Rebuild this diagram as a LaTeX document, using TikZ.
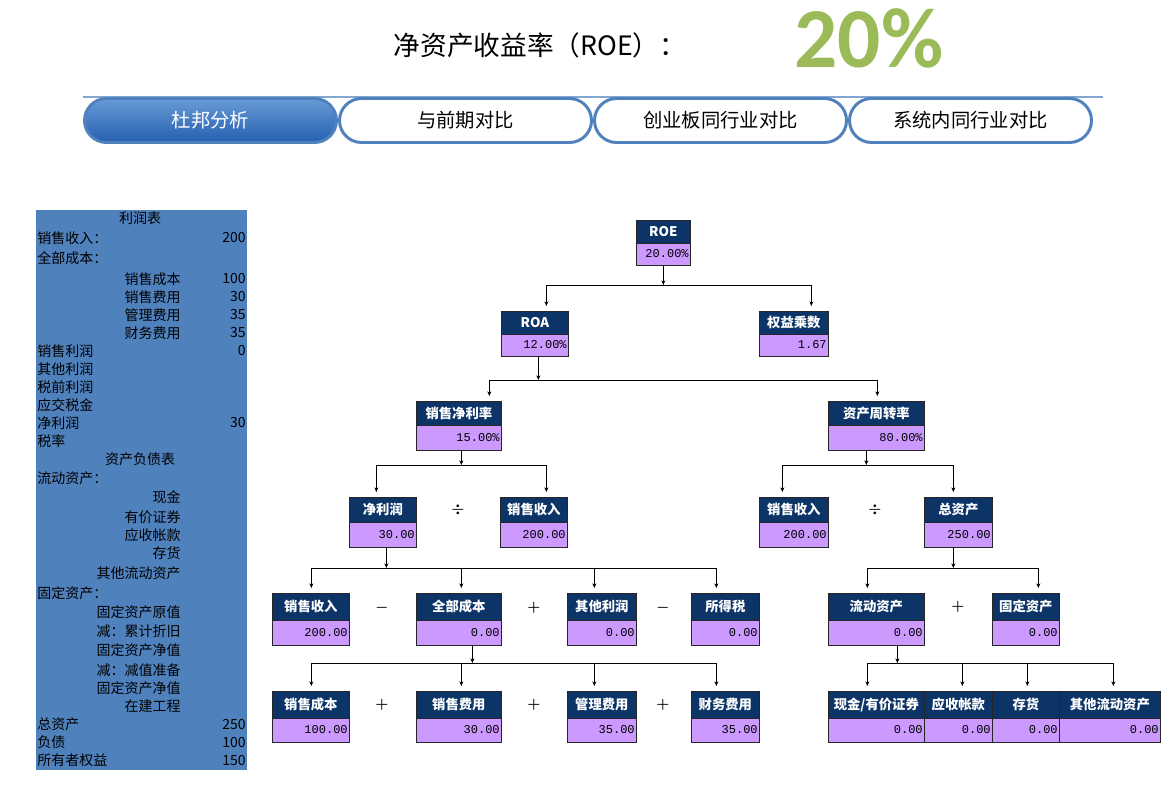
\documentclass[tikz,border=0pt]{standalone}
\usepackage{fontspec}
\setmainfont{Noto Sans CJK SC}
\setmonofont{Liberation Mono}
\newfontfamily\pctfont{Carlito}
\usetikzlibrary{arrows.meta,positioning,calc}
\definecolor{PanelBlue}{RGB}{79,129,189}
\definecolor{HeadNavy}{RGB}{12,52,102}
\definecolor{ValPurple}{RGB}{204,153,255}
\definecolor{TabLine}{RGB}{79,129,189}
\definecolor{TabTop}{RGB}{104,154,214}
\definecolor{TabBot}{RGB}{36,96,176}
\definecolor{PctGreen}{RGB}{155,187,89}

\begin{document}
\begin{tikzpicture}[x=0.75pt,y=-0.75pt,
  hd/.style={draw=black!85,fill=HeadNavy,text=white,line width=0.6pt,
             inner xsep=1.5pt,inner ysep=0pt,outer sep=0pt,align=center,
             font=\bfseries\fontsize{10pt}{11pt}\selectfont},
  val/.style={draw=black!85,fill=ValPurple,line width=0.6pt,
              inner xsep=1pt,inner ysep=0pt,outer sep=0pt,align=right,
              font=\ttfamily\fontsize{9pt}{10pt}\selectfont},
  tab/.style={draw=TabLine,line width=2.2pt,rounded corners=16.5pt,
              minimum height=33pt,font=\fontsize{14.5pt}{16pt}\selectfont},
  pnl/.style={inner sep=0pt,font=\fontsize{10.5pt}{12pt}\selectfont},
  op/.style={font=\boldmath\fontsize{11pt}{12pt}\selectfont},
  arr/.style={-{Stealth[length=3.5pt,width=3pt]},line width=0.6pt},
  bar/.style={line width=0.6pt},
]
\useasboundingbox (0,0) rectangle (1176,785);
\fill[white] (0,0) rectangle (1176,785);

% title
\node[font=\fontsize{20pt}{22pt}\selectfont] (title) at (540,45) {净资产收益率（ROE）：};
\node[font=\pctfont\bfseries\fontsize{64pt}{66pt}\selectfont,text=PctGreen] (pct) at (869,38) {20\%};
\draw[TabLine!70,line width=0.8pt] (83,97) -- (1103,97);

% tabs
\node[tab,top color=TabTop,bottom color=TabBot,text=white,minimum width=189pt] (t1) at (210.5,120.5) {杜邦分析};
\foreach \x/\w/\t [count=\i from 2] in {465.5/255/与前期对比,720.5/255/创业板同行业对比,970.5/245/系统内同行业对比}
  \node[tab,fill=white,minimum width={(\w-3)*0.75pt}] (t\i) at (\x,120.5) {\t};

% left panel
\fill[PanelBlue] (36,210) rectangle (247,770);
\foreach \y/\x/\an/\t [count=\i] in {
  218/140/center/利润表, 238/37/west/销售收入：, 258/37/west/全部成本：,
  279/181/east/销售成本, 297/181/east/销售费用, 315/181/east/管理费用, 333/181/east/财务费用,
  351/37/west/销售利润, 369/37/west/其他利润, 387/37/west/税前利润, 405/37/west/应交税金,
  423/37/west/净利润, 441/37/west/税率, 459/140/center/资产负债表, 478/37/west/流动资产：,
  497/181/east/现金, 517/181/east/有价证券, 535/181/east/应收帐款, 553/181/east/存货,
  573/181/east/其他流动资产, 593/37/west/固定资产：, 612/181/east/固定资产原值,
  631/181/east/减：累计折旧, 650/181/east/固定资产净值, 670/181/east/减：减值准备,
  688/181/east/固定资产净值, 706/181/east/在建工程,
  724/37/west/总资产, 742/37/west/负债, 760/37/west/所有者权益}
  \node[pnl,anchor=\an] (p\i) at (\x,\y) {\t};
\foreach \y/\t [count=\i] in {238/200,279/100,297/30,315/35,333/35,351/0,423/30,724/250,742/100,760/150}
  \node[pnl,anchor=east] (n\i) at (246,\y) {\t};

% tree boxes
\foreach \n/\a/\b/\ya/\yb/\yc/\t/\v in {
  roe/636/690/220/243/265/ROE/20.00\%,
  roa/501/568/311/334/356/ROA/12.00\%,
  qycs/759/828/311/334/356/权益乘数/1.67,
  xsjll/416/501/401/425/450/销售净利率/15.00\%,
  zczzl/828/924/401/425/450/资产周转率/80.00\%,
  jlr/349/416/497/522/547/净利润/30.00,
  xssra/500/567/497/522/547/销售收入/200.00,
  xssrb/759/828/497/522/547/销售收入/200.00,
  zzc/924/992/497/522/547/总资产/250.00,
  xssrc/272/349/593/620/645/销售收入/200.00,
  qbcb/416/501/593/620/645/全部成本/0.00,
  qtlr/567/636/593/620/645/其他利润/0.00,
  sds/691/759/593/620/645/所得税/0.00,
  ldzc/828/924/593/620/645/流动资产/0.00,
  gdzc/992/1059/593/620/645/固定资产/0.00,
  xscb/272/349/691/718/742/销售成本/100.00,
  xsfy/416/501/691/718/742/销售费用/30.00,
  glfy/567/636/691/718/742/管理费用/35.00,
  cwfy/691/759/691/718/742/财务费用/35.00,
  xj/828/924/691/718/742/{现金/有价证券}/0.00,
  yszk/924/992/691/718/742/应收帐款/0.00,
  ch/992/1059/691/718/742/存货/0.00,
  qtld/1059/1160/691/718/742/其他流动资产/0.00}{
  \pgfmathsetmacro\tw{(\b-\a)*0.75-2.5}
  \pgfmathsetmacro\hh{(\yb-\ya)*0.75}
  \pgfmathsetmacro\vh{(\yc-\yb)*0.75}
  \node[hd,text width=\tw pt,minimum height=\hh pt,anchor=north west] (\n) at (\a,\ya) {\t};
  \node[val,text width=\tw pt,minimum height=\vh pt,below=0pt of \n] (v\n) {\v};
}

% operators
\foreach \x/\y/\s [count=\i] in {458/510/\div,875/510/\div,382/608/-,534/608/+,663/608/-,
                                 958/607/+,382/705/+,534/705/+,663/705/+}
  \node[op] (o\i) at (\x,\y) {$\s$};

% connectors
\foreach \p/\dx/\l in {roe/0/20,roa/3.5/24,xsjll/2.5/15,zczzl/-10/15,
                       jlr/3.5/21,zzc/-5/21,qbcb/13.5/18,ldzc/21/18}{
  \coordinate (j\p) at ($(v\p.south)+(\dx,\l)$);
  \draw[arr] ($(v\p.south)+(\dx,0)$) -- (j\p);
}
\foreach \p/\c/\dx in {roe/roa/11.5,roe/qycs/17.5,roa/xsjll/30.5,roa/zczzl/1,
    xsjll/jlr/-6.5,xsjll/xssra/12.5,zczzl/xssrb/-11.5,zczzl/zzc/-5,
    jlr/xssrc/0.5,jlr/qbcb/2.5,jlr/qtlr/-7.5,jlr/sds/-9,zzc/ldzc/-9,zzc/gdzc/12.5,
    qbcb/xscb/0.5,qbcb/xsfy/2.5,qbcb/glfy/-7.5,qbcb/cwfy/-9,
    ldzc/xj/-9,ldzc/yszk/4,ldzc/ch/1.5,ldzc/qtld/3.5}{
  \coordinate (a\c) at ($(\c.north)+(\dx,-5)$);
  \draw[arr] (a\c |- j\p) -- (a\c);
}
\foreach \p/\l/\r in {roe/roa/qycs,roa/xsjll/zczzl,xsjll/jlr/xssra,zczzl/xssrb/zzc,
                      jlr/xssrc/sds,zzc/ldzc/gdzc,qbcb/xscb/cwfy,ldzc/xj/qtld}
  \draw[bar] (a\l |- j\p) -- (a\r |- j\p);
\end{tikzpicture}
\end{document}
